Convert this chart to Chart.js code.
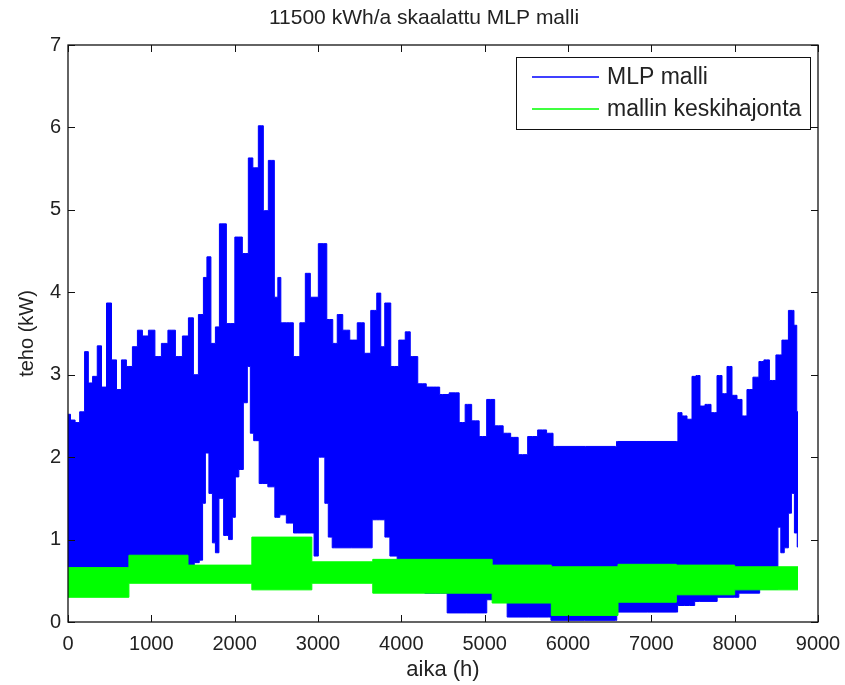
<!DOCTYPE html>
<html>
<head>
<meta charset="utf-8">
<script src="https://cdn.jsdelivr.net/npm/chart.js@4.4.1/dist/chart.umd.min.js"></script>
<style>
  html, body { margin: 0; padding: 0; background: #fff; }
  #wrap { width: 845px; height: 685px; }
</style>
</head>
<body>
<div id="wrap"><canvas id="chart" width="845" height="685"></canvas></div>
<script>
// upper edge of the MLP model band (kW)
const mlpTopHours = [0, 60, 110, 170, 228, 260, 330, 372, 432, 492, 552, 612, 671, 731, 815, 851, 935, 995,
  1091, 1151, 1247, 1331, 1415, 1475, 1535, 1595, 1655, 1679, 1751, 1787, 1847, 1954, 2050, 2134, 2194,
  2242, 2326, 2362, 2446, 2506, 2530, 2578, 2662, 2746, 2818, 2878, 2938, 3070, 3141, 3213, 3249, 3345,
  3417, 3525, 3585, 3681, 3729, 3777, 3825, 3921, 4017, 4077, 4137, 4257, 4341, 4424, 4496, 4652, 4736,
  4796, 4892, 4976, 5072, 5168, 5276, 5348, 5456, 5576, 5695, 5791, 5850, 6570, 6595, 7300, 7338, 7398,
  7458, 7518, 7554, 7614, 7674, 7758, 7818, 7878, 7938, 7998, 8058, 8118, 8177, 8261, 8321, 8381, 8453,
  8537, 8597, 8693, 8730, 8760];
const mlpTopKw = [2.52, 2.45, 2.42, 2.55, 3.28, 2.9, 2.98, 3.35, 2.85, 3.87, 3.18, 2.82, 3.18, 3.1, 3.34, 3.54, 3.47, 3.54,
  3.22, 3.38, 3.54, 3.22, 3.47, 3.69, 3.0, 3.73, 4.18, 4.43, 3.38, 3.58, 4.83, 3.62, 4.67, 4.47, 5.63,
  5.51, 6.02, 4.99, 5.6, 3.94, 4.18, 3.63, 3.63, 3.22, 3.63, 4.23, 3.94, 4.59, 3.67, 3.38, 3.73, 3.54,
  3.42, 3.63, 3.26, 3.78, 3.99, 3.34, 3.87, 3.1, 3.42, 3.52, 3.22, 2.89, 2.85, 2.85, 2.76, 2.78, 2.42,
  2.64, 2.44, 2.25, 2.7, 2.38, 2.29, 2.24, 2.03, 2.25, 2.33, 2.29, 2.13, 2.13, 2.19, 2.19, 2.54, 2.5,
  2.46, 2.98, 2.99, 2.62, 2.64, 2.54, 2.99, 2.77, 3.1, 2.75, 2.7, 2.5, 2.82, 2.97, 3.16, 3.18, 2.93,
  3.24, 3.42, 3.78, 3.6, 2.55];

// lower edge of the MLP model band (kW)
const mlpBottomHours = [0, 1480, 1550, 1600, 1630, 1667, 1715, 1751, 1787, 1835, 1900, 1954, 1990, 2026, 2074,
  2134, 2170, 2206, 2250, 2338, 2458, 2506, 2578, 2662, 2750, 2920, 2986, 3022, 3058, 3106, 3141, 3200,
  3600, 3700, 3780, 3825, 3900, 4000, 4150, 4412, 4530, 4570, 5000, 5050, 5250, 5290, 5770, 5820, 6570,
  6600, 7300, 7330, 7460, 7580, 8000, 8100, 8500, 8537, 8570, 8620, 8669, 8693, 8741, 8760];
const mlpBottomKw = [0.6, 0.6, 0.72, 0.75, 1.44, 2.05, 1.56, 0.96, 0.84, 1.5, 1.05, 1.0, 1.27, 1.76, 1.85,
  2.66, 3.1, 2.29, 2.2, 1.68, 1.64, 1.27, 1.3, 1.2, 1.08, 1.08, 0.8, 2.0, 2.0, 1.44, 1.03, 0.9,
  0.9, 1.24, 1.24, 1.03, 0.8, 0.7, 0.45, 0.35, 0.35, 0.11, 0.11, 0.27, 0.27, 0.06, 0.06, 0.02, 0.02,
  0.12, 0.12, 0.2, 0.2, 0.25, 0.3, 0.35, 0.4, 1.15, 0.84, 0.9, 1.32, 1.56, 1.08, 0.91];

// standard deviation band (steps), value holds until the next hour listed
const stdHours = [0, 731, 1440, 2206, 2926, 3657, 5090, 5800, 6600, 7300, 8000, 8760];
const stdTopKw = [0.66, 0.81, 0.69, 1.03, 0.73, 0.76, 0.69, 0.67, 0.70, 0.69, 0.67, 0.67];
const stdBottomKw = [0.30, 0.47, 0.47, 0.39, 0.47, 0.35, 0.23, 0.08, 0.24, 0.33, 0.39, 0.39];

const xTicks = [0, 1000, 2000, 3000, 4000, 5000, 6000, 7000, 8000, 9000];
const yTicks = [0, 1, 2, 3, 4, 5, 6, 7];

const TITLE = '11500 kWh/a skaalattu MLP malli';
const BLUE = '#0000ff';
const GREEN = '#00ff00';
const FONT = "'Liberation Sans', Arial, sans-serif";

function toPoints(xs, ys) {
    return xs.map((x, i) => ({ x: x, y: ys[i] }));
}

// box round the axes with inward ticks on all four sides, title above it
const axisBox = {
    id: 'axisBox',
    afterDatasetsDraw(chart) {
        const { ctx, chartArea: a, scales } = chart;
        ctx.save();
        ctx.strokeStyle = '#111';
        ctx.lineWidth = 1.3;
        ctx.strokeRect(a.left, a.top, a.right - a.left, a.bottom - a.top);
        ctx.lineWidth = 1;
        ctx.beginPath();
        xTicks.forEach(v => {
            const px = Math.round(scales.x.getPixelForValue(v)) + 0.5;
            ctx.moveTo(px, a.bottom); ctx.lineTo(px, a.bottom - 7);
            ctx.moveTo(px, a.top); ctx.lineTo(px, a.top + 7);
        });
        yTicks.forEach(v => {
            const py = Math.round(scales.y.getPixelForValue(v)) + 0.5;
            ctx.moveTo(a.left, py); ctx.lineTo(a.left + 7, py);
            ctx.moveTo(a.right, py); ctx.lineTo(a.right - 7, py);
        });
        ctx.stroke();

        ctx.fillStyle = '#222';
        ctx.font = '21px ' + FONT;
        ctx.textAlign = 'center';
        ctx.textBaseline = 'middle';
        ctx.fillText(TITLE, (a.left + a.right) / 2 - 19, a.top - 27);
        ctx.restore();
    }
};

// MATLAB style legend box in the top right corner of the axes
const boxLegend = {
    id: 'boxLegend',
    afterDraw(chart) {
        const { ctx, chartArea: a } = chart;
        const items = [
            { text: 'MLP malli', color: BLUE },
            { text: 'mallin keskihajonta', color: GREEN }
        ];
        const right = a.right - 8, left = right - 294;
        const top = a.top + 12, height = 72;
        ctx.save();
        ctx.fillStyle = '#fff';
        ctx.fillRect(left, top, right - left, height);
        ctx.strokeStyle = '#111';
        ctx.lineWidth = 1;
        ctx.strokeRect(left + 0.5, top + 0.5, right - left, height);
        ctx.font = '23px ' + FONT;
        ctx.textBaseline = 'middle';
        items.forEach((it, i) => {
            const y = top + 20 + i * 32;
            ctx.strokeStyle = it.color;
            ctx.lineWidth = 1.5;
            ctx.beginPath();
            ctx.moveTo(left + 16, y); ctx.lineTo(left + 83, y);
            ctx.stroke();
            ctx.fillStyle = '#222';
            ctx.fillText(it.text, left + 91, y + 1);
        });
        ctx.restore();
    }
};

new Chart(document.getElementById('chart'), {
    type: 'line',
    data: {
        datasets: [{
            label: 'mallin keskihajonta (ala)',
            data: toPoints(stdHours, stdBottomKw),
            borderColor: GREEN,
            borderWidth: 1,
            stepped: 'before',
            pointRadius: 0,
            fill: false
        }, {
            label: 'mallin keskihajonta',
            data: toPoints(stdHours, stdTopKw),
            borderColor: GREEN,
            backgroundColor: GREEN,
            borderWidth: 1,
            stepped: 'before',
            pointRadius: 0,
            fill: '-1'
        }, {
            label: 'MLP malli (ala)',
            data: toPoints(mlpBottomHours, mlpBottomKw),
            borderColor: BLUE,
            borderWidth: 1,
            stepped: 'middle',
            pointRadius: 0,
            fill: false
        }, {
            label: 'MLP malli',
            data: toPoints(mlpTopHours, mlpTopKw),
            borderColor: BLUE,
            backgroundColor: BLUE,
            borderWidth: 1,
            stepped: 'middle',
            pointRadius: 0,
            fill: '-1'
        }]
    },
    options: {
        responsive: false,
        animation: false,
        events: [],
        layout: { padding: { left: 0, right: 27, top: 45, bottom: 0 } },
        plugins: {
            legend: { display: false },
            tooltip: { enabled: false },
            title: { display: false }
        },
        scales: {
            x: {
                type: 'linear',
                min: 0,
                max: 9000,
                afterBuildTicks: s => { s.ticks = xTicks.map(v => ({ value: v })); },
                afterFit: s => { s.height = 63; s.paddingLeft = 0; s.paddingRight = 0; },
                grid: { display: false, drawTicks: false },
                border: { display: false },
                ticks: {
                    color: '#222', padding: 10, maxRotation: 0,
                    font: { family: FONT, size: 20 },
                    callback: v => String(v)
                },
                title: {
                    display: true,
                    text: 'aika (h)',
                    color: '#222',
                    font: { family: FONT, size: 22 },
                    padding: { top: 0, bottom: 2 }
                }
            },
            y: {
                type: 'linear',
                min: 0,
                max: 7,
                afterBuildTicks: s => { s.ticks = yTicks.map(v => ({ value: v })); },
                afterFit: s => { s.width = 68; s.paddingTop = 0; s.paddingBottom = 0; },
                grid: { display: false, drawTicks: false },
                border: { display: false },
                ticks: { color: '#222', padding: 7, font: { family: FONT, size: 20 } },
                title: {
                    display: true,
                    text: 'teho (kW)',
                    color: '#222',
                    font: { family: FONT, size: 20 },
                    padding: { top: 15, bottom: 0 }
                }
            }
        }
    },
    plugins: [axisBox, boxLegend]
});
</script>
</body>
</html>
